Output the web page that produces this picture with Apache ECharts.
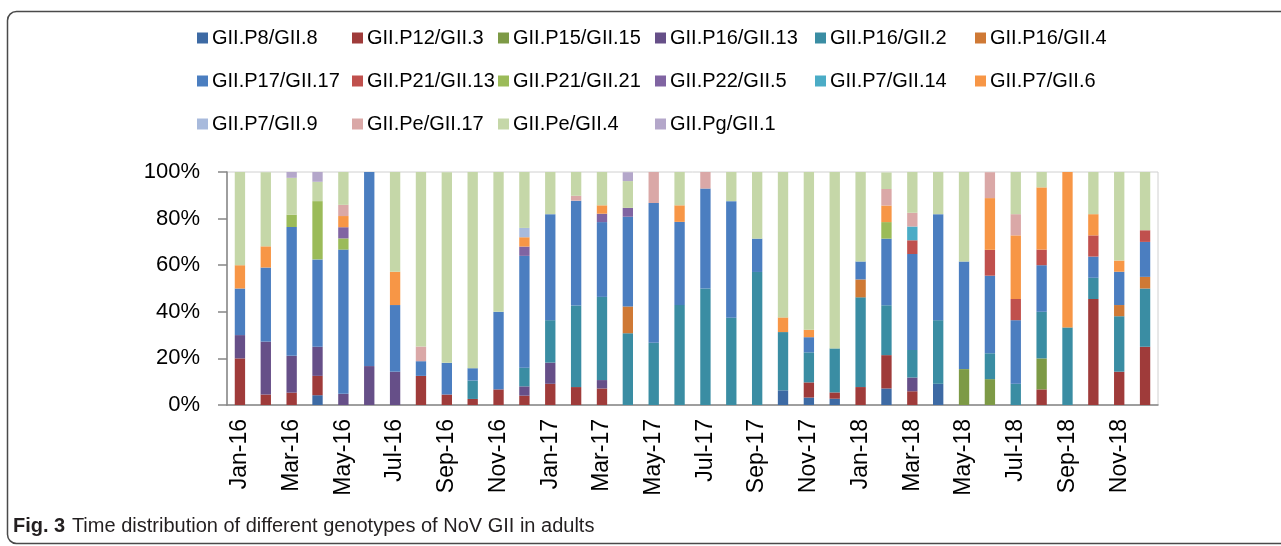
<!DOCTYPE html>
<html>
<head>
<meta charset="utf-8">
<title>NoV GII genotypes by month</title>
<script src="https://cdn.jsdelivr.net/npm/echarts@6/dist/echarts.min.js"></script>
<style>
  html, body { margin: 0; padding: 0; background: #fff; }
  #chart { width: 1281px; height: 546px; }
</style>
</head>
<body>
<div id="chart"></div>
<script>
// months on the x axis
const months = [
  'Jan-16', 'Feb-16', 'Mar-16', 'Apr-16', 'May-16', 'Jun-16', 'Jul-16', 'Aug-16', 'Sep-16', 'Oct-16', 'Nov-16', 'Dec-16',
  'Jan-17', 'Feb-17', 'Mar-17', 'Apr-17', 'May-17', 'Jun-17', 'Jul-17', 'Aug-17', 'Sep-17', 'Oct-17', 'Nov-17', 'Dec-17',
  'Jan-18', 'Feb-18', 'Mar-18', 'Apr-18', 'May-18', 'Jun-18', 'Jul-18', 'Aug-18', 'Sep-18', 'Oct-18', 'Nov-18', 'Dec-18'
]

// share (%) of each genotype per month, stacking order bottom -> top
const p8_8 = [0, 0, 0, 4.2, 0, 0, 0, 0, 0, 0, 0, 0, 0, 0, 0, 0, 0, 0, 0, 0, 0, 6.3, 3.2, 2.7, 0, 7.1, 0, 9.1, 0, 0, 0, 0, 0, 0, 0, 0]
const p12_3 = [20, 4.5, 5.3, 8.3, 0, 0, 0, 12.5, 4.5, 2.6, 6.7, 4, 9.1, 7.7, 7.1, 0, 0, 0, 0, 0, 0, 0, 6.5, 2.7, 7.7, 14.3, 5.9, 0, 0, 0, 0, 6.7, 0, 45.5, 14.3, 25]
const p15_15 = [0, 0, 0, 0, 0, 0, 0, 0, 0, 0, 0, 0, 0, 0, 0, 0, 0, 0, 0, 0, 0, 0, 0, 0, 0, 0, 0, 0, 15.4, 11.1, 0, 13.3, 0, 0, 0, 0]
const p16_13 = [10, 22.7, 15.8, 12.5, 4.8, 16.7, 14.3, 0, 0, 0, 0, 4, 9.1, 0, 3.6, 0, 0, 0, 0, 0, 0, 0, 0, 0, 0, 0, 5.9, 0, 0, 0, 0, 0, 0, 0, 0, 0]
const p16_2 = [0, 0, 0, 0, 0, 0, 0, 0, 0, 7.9, 0, 8, 18.2, 35, 35.7, 30.8, 26.7, 42.9, 50, 37.5, 57.1, 25, 12.9, 18.9, 38.5, 21.4, 11.8, 27.3, 0, 11.1, 9.1, 20, 33.3, 9.1, 23.8, 25]
const p16_4 = [0, 0, 0, 0, 0, 0, 0, 0, 0, 0, 0, 0, 0, 0, 0, 11.5, 0, 0, 0, 0, 0, 0, 0, 0, 7.7, 0, 0, 0, 0, 0, 0, 0, 0, 0, 4.8, 5]
const p17_17 = [20, 31.8, 55.3, 37.5, 61.9, 83.3, 28.6, 6.3, 13.6, 5.3, 33.3, 48, 45.5, 45, 32.1, 38.5, 60, 35.7, 42.9, 50, 14.3, 0, 6.5, 0, 7.7, 28.6, 41.2, 45.5, 46.2, 33.3, 27.3, 20, 0, 9.1, 14.3, 15]
const p21_13 = [0, 0, 0, 0, 0, 0, 0, 0, 0, 0, 0, 0, 0, 0, 0, 0, 0, 0, 0, 0, 0, 0, 0, 0, 0, 0, 5.9, 0, 0, 11.1, 9.1, 6.7, 0, 9.1, 0, 5]
const p21_21 = [0, 0, 5.3, 25, 4.8, 0, 0, 0, 0, 0, 0, 0, 0, 0, 0, 0, 0, 0, 0, 0, 0, 0, 0, 0, 0, 7.1, 0, 0, 0, 0, 0, 0, 0, 0, 0, 0]
const p22_5 = [0, 0, 0, 0, 4.8, 0, 0, 0, 0, 0, 0, 4, 0, 0, 3.6, 3.8, 0, 0, 0, 0, 0, 0, 0, 0, 0, 0, 0, 0, 0, 0, 0, 0, 0, 0, 0, 0]
const p7_14 = [0, 0, 0, 0, 0, 0, 0, 0, 0, 0, 0, 0, 0, 0, 0, 0, 0, 0, 0, 0, 0, 0, 0, 0, 0, 0, 5.9, 0, 0, 0, 0, 0, 0, 0, 0, 0]
const p7_6 = [10, 9.1, 0, 0, 4.8, 0, 14.3, 0, 0, 0, 0, 4, 0, 0, 3.6, 0, 0, 7.1, 0, 0, 0, 6.3, 3.2, 0, 0, 7.1, 0, 0, 0, 22.2, 27.3, 26.7, 66.7, 9.1, 4.8, 0]
const p7_9 = [0, 0, 0, 0, 0, 0, 0, 0, 0, 0, 0, 4, 0, 0, 0, 0, 0, 0, 0, 0, 0, 0, 0, 0, 0, 0, 0, 0, 0, 0, 0, 0, 0, 0, 0, 0]
const pe_17 = [0, 0, 0, 0, 4.8, 0, 0, 6.3, 0, 0, 0, 0, 0, 2.1, 0, 0, 13.3, 0, 7.1, 0, 0, 0, 0, 0, 0, 7.1, 5.9, 0, 0, 11.1, 9.1, 0, 0, 0, 0, 0]
const pe_4 = [40, 31.8, 15.8, 8.3, 14.3, 0, 42.9, 75, 81.8, 84.2, 60, 24, 18.2, 10.2, 14.3, 11.5, 0, 14.3, 0, 12.5, 28.6, 62.5, 67.7, 75.7, 38.5, 7.1, 17.6, 18.2, 38.5, 0, 18.2, 6.7, 0, 18.2, 38.1, 25]
const pg_1 = [0, 0, 2.6, 4.2, 0, 0, 0, 0, 0, 0, 0, 0, 0, 0, 0, 3.8, 0, 0, 0, 0, 0, 0, 0, 0, 0, 0, 0, 0, 0, 0, 0, 0, 0, 0, 0, 0]

// y axis ticks
const yTicks = [0, 20, 40, 60, 80, 100]

const genotypes = [
  { name: 'GII.P8/GII.8', data: p8_8, color: '#3d6aa4' },
  { name: 'GII.P12/GII.3', data: p12_3, color: '#9f3b3a' },
  { name: 'GII.P15/GII.15', data: p15_15, color: '#7d9a46' },
  { name: 'GII.P16/GII.13', data: p16_13, color: '#664f88' },
  { name: 'GII.P16/GII.2', data: p16_2, color: '#3a8da3' },
  { name: 'GII.P16/GII.4', data: p16_4, color: '#cf7935' },
  { name: 'GII.P17/GII.17', data: p17_17, color: '#4b7ec0' },
  { name: 'GII.P21/GII.13', data: p21_13, color: '#c0504d' },
  { name: 'GII.P21/GII.21', data: p21_21, color: '#9bbb59' },
  { name: 'GII.P22/GII.5', data: p22_5, color: '#8064a2' },
  { name: 'GII.P7/GII.14', data: p7_14, color: '#4bacc6' },
  { name: 'GII.P7/GII.6', data: p7_6, color: '#f79646' },
  { name: 'GII.P7/GII.9', data: p7_9, color: '#a8badc' },
  { name: 'GII.Pe/GII.17', data: pe_17, color: '#daa8a7' },
  { name: 'GII.Pe/GII.4', data: pe_4, color: '#c5d7a8' },
  { name: 'GII.Pg/GII.1', data: pg_1, color: '#b4a7ca' }
]

// legend is laid out like the Excel one: 3 rows, 6 columns, row-major
const legendCols = [197, 352, 498, 655, 815, 975]
const legends = legendCols.map((x, col) => ({
  orient: 'vertical',
  left: x,
  top: 27,
  padding: 0,
  itemGap: 21,
  itemWidth: 11,
  itemHeight: 11,
  selectedMode: false,
  icon: 'rect',
  textStyle: { fontFamily: 'Liberation Sans', fontSize: 20, lineHeight: 22, color: '#000', padding: [0, 0, 0, -1] },
  data: genotypes.filter((g, i) => i % 6 === col).map(g => g.name)
}))

const chart = echarts.init(document.getElementById('chart'))

const option = {
  animation: false,
  backgroundColor: '#fff',
  legend: legends,
  grid: {
    left: 227,
    right: 123,
    top: 172,
    bottom: 141,
    show: true,
    borderColor: '#d0d0d0',
    borderWidth: 1
  },
  xAxis: {
    type: 'category',
    data: months,
    boundaryGap: true,
    axisLine: { lineStyle: { color: '#868686', width: 1.5 } },
    axisTick: { interval: 1, length: 9, lineStyle: { color: '#868686', width: 1.5 } },
    axisLabel: {
      interval: 1,
      rotate: 90,
      margin: 14,
      fontFamily: 'Liberation Sans',
      fontSize: 23,
      color: '#000'
    }
  },
  yAxis: {
    type: 'value',
    min: yTicks[0],
    max: yTicks[yTicks.length - 1],
    interval: 20,
    splitLine: { show: false },
    axisLine: { show: true, lineStyle: { color: '#868686', width: 1.5 } },
    axisTick: { show: true, length: 9, lineStyle: { color: '#868686', width: 1.5 } },
    axisLabel: {
      formatter: '{value}%',
      margin: 27,
      fontFamily: 'Liberation Sans',
      fontSize: 22,
      color: '#000'
    }
  },
  series: genotypes.map(g => ({
    name: g.name,
    type: 'bar',
    stack: 'all',
    barWidth: '40%',
    itemStyle: { color: g.color },
    data: g.data
  })),
  graphic: [
    {
      // rounded frame around the figure
      type: 'rect',
      silent: true,
      shape: { x: 7.5, y: 11.5, width: 1300, height: 532, r: 9 },
      style: { fill: 'none', stroke: '#4a4a4a', lineWidth: 1.5 }
    },
    {
      // figure caption
      type: 'text',
      left: 13,
      top: 516,
      style: {
        text: '{b|Fig. 3}  {n|Time distribution of different genotypes of NoV GII in adults}',
        rich: {
          b: { fontFamily: 'Liberation Sans', fontSize: 20, fontWeight: 'bold', fill: '#231f20' },
          n: { fontFamily: 'Liberation Sans', fontSize: 20, fill: '#231f20' }
        }
      }
    }
  ]
}

chart.setOption(option)
</script>
</body>
</html>
